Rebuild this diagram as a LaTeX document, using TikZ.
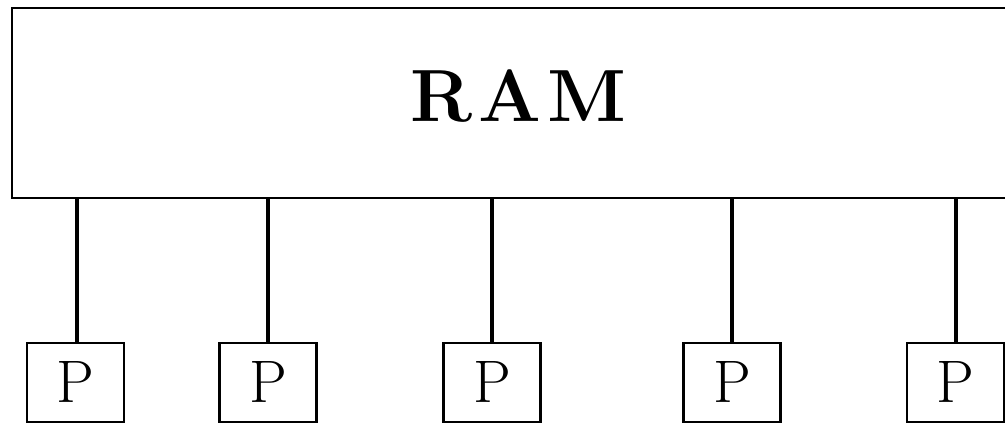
\documentclass[tikz,border=0pt]{standalone}
\begin{document}
\begin{tikzpicture}[x=1pt,y=1pt,
  membox/.style={draw=black, line width=2.6pt, rectangle, minimum width=1012pt, minimum height=190pt, inner sep=0pt},
  pbox/.style={draw=black, line width=2.2pt, rectangle, minimum width=97pt, minimum height=79pt, inner sep=0pt, font=\fontsize{60}{60}\selectfont},
  bus/.style={draw=black, line width=3.4pt}]
\useasboundingbox (0,0) rectangle (1005,424);
\clip (0,0) rectangle (1005,424);
\node[membox] (ram) at (518,321) {};
\node[anchor=base, inner sep=0pt, font=\fontsize{74}{74}\selectfont\bfseries] (ramtext) at (518,302) {R\kern6pt A\kern6pt M};
\node[pbox] (p1) at (75.5,41.5) {P};
\node[pbox] (p2) at (268,41.5) {P};
\node[pbox] (p3) at (492,41.5) {P};
\node[pbox] (p4) at (732,41.5) {P};
\node[pbox] (p5) at (955.5,41.5) {P};
\foreach \i/\x in {1/77,2/268,3/492,4/732,5/956}{
  \coordinate (t\i) at (\x,0);
  \draw[bus] (p\i.north -| t\i) -- (ram.south -| t\i);
}
\end{tikzpicture}
\end{document}
